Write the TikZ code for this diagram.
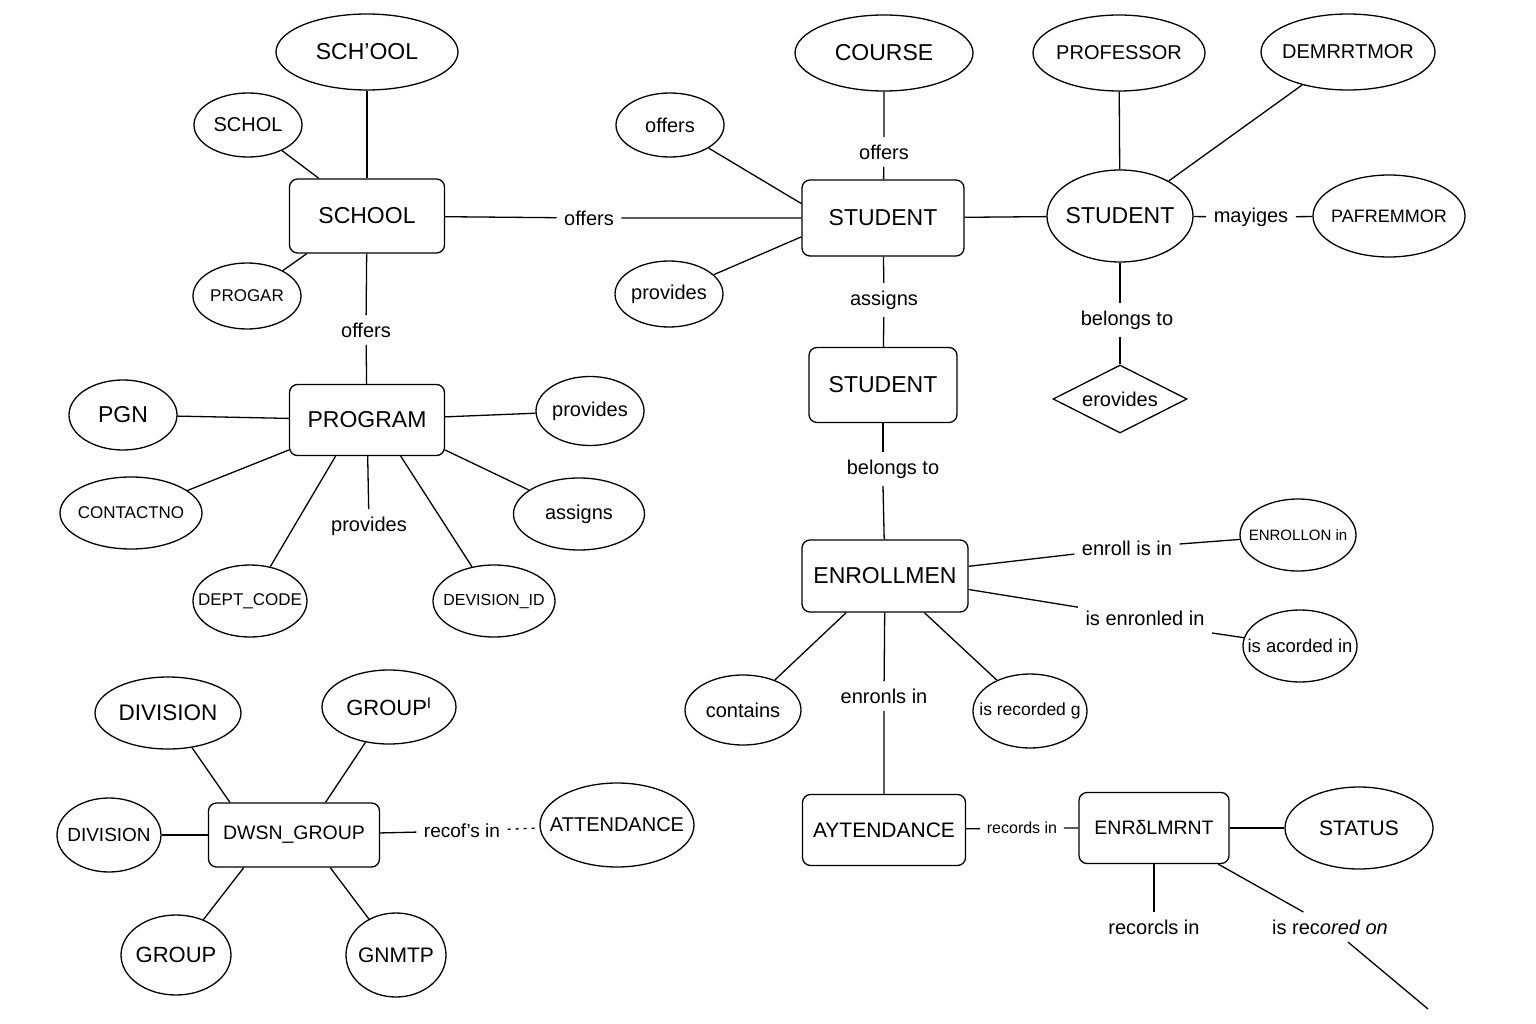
\documentclass[tikz,border=0pt]{standalone}
\usepackage{fontspec}
\setmainfont{Liberation Sans}
\usetikzlibrary{shapes.geometric}
\newcommand\fsz[1]{\fontsize{#1}{#1}\selectfont}

\begin{document}
\begin{tikzpicture}[x=1pt,y=-1pt,line width=1.3pt,
  ent/.style={draw,rounded corners=8pt,inner sep=0pt,font=\fsz{23}},
  attr/.style={draw,ellipse,inner xsep=-16pt,inner ysep=0pt,font=\fsz{20}},
  rel/.style={font=\fsz{20},inner sep=7pt},
  bigtxt/.style={font=\fsz{23}}]
  \path[use as bounding box,fill=white] (0,0) rectangle (1536,1024);

  % school
  \node[ent,minimum width=155,minimum height=74] (school) at (367,216) {SCHOOL};
  \node[attr,bigtxt,minimum width=182,minimum height=76] (schq) at (367,52) {SCH’OOL};
  \node[attr,minimum width=108,minimum height=64] (schol) at (248,125) {SCHOL};
  \node[attr,font=\fsz{17},minimum width=108,minimum height=66] (progar) at (247,296) {PROGAR};
  \node[rel] (offa) at (589,218) {offers};
  \node[rel] (offb) at (366,330) {offers};
  \draw (schq) -- (school);
  \draw (schol) -- (school.142);
  \draw (progar) -- (school.212);

  % program
  \node[ent,minimum width=155,minimum height=71] (program) at (367,420) {PROGRAM};
  \node[attr,bigtxt,minimum width=108,minimum height=70] (pgn) at (123,415) {PGN};
  \node[attr,font=\fsz{17},minimum width=142,minimum height=72] (contno) at (131,513) {CONTACTNO};
  \node[attr,font=\fsz{17},minimum width=114,minimum height=72] (dept) at (250,601) {DEPT\_CODE};
  \node[attr,font=\fsz{16},minimum width=122,minimum height=72] (devid) at (494,601) {DEVISION\_ID};
  \node[attr,minimum width=131,minimum height=72] (asgn) at (579,514) {assigns};
  \node[attr,minimum width=108,minimum height=69] (provc) at (590,411) {provides};
  \node[rel] (provl) at (369,526) {provides};
  \draw (school) -- (offb) -- (program);
  \draw (pgn) -- (program);
  \draw (contno) -- (program.201);
  \draw (dept) -- (program.229);
  \draw (devid) -- (program.313);
  \draw (asgn) -- (program.339);
  \draw (provc) -- (program);
  \draw (program) -- (provl);

  % student
  \node[ent,minimum width=162,minimum height=76] (stud) at (883,218) {STUDENT};
  \node[attr,bigtxt,minimum width=178,minimum height=76] (course) at (884,53) {COURSE};
  \node[rel] (offc) at (884,152) {offers};
  \node[attr,minimum width=108,minimum height=64] (offd) at (670,125) {offers};
  \node[attr,minimum width=108,minimum height=66] (provb) at (669,294) {provides};
  \draw (school) -- (offa) -- (stud);
  \draw (course) -- (offc) -- (stud);
  \draw (offd) -- (stud.170);
  \draw (provb) -- (stud.193);

  \node[attr,bigtxt,minimum width=146,minimum height=92] (stude) at (1120,216) {STUDENT};
  \node[attr,minimum width=172,minimum height=76] (prof) at (1119,53) {PROFESSOR};
  \node[attr,minimum width=174,minimum height=76] (demr) at (1348,52) {DEMRRTMOR};
  \node[rel] (mayi) at (1251,217) {mayiges};
  \node[attr,font=\fsz{18},minimum width=152,minimum height=82] (pafr) at (1389,216) {PAFREMMOR};
  \node[rel] (bel) at (1127,320) {belongs to};
  \node[draw,diamond,aspect=2,inner sep=0pt,font=\fsz{20},minimum width=134,minimum height=68] (erov) at (1120,399) {erovides};
  \draw (stud) -- (stude);
  \draw (prof) -- (stude);
  \draw (demr) -- (stude);
  \draw (stude) -- (mayi) -- (pafr);
  \draw (stude) -- (stude |- bel.north);
  \draw (stude |- bel.south) -- (erov);

  % enrollment
  \node[rel] (asg) at (884,300) {assigns};
  \node[ent,minimum width=148,minimum height=75] (studb) at (883,385) {STUDENT};
  \node[rel] (belb) at (893,469) {belongs to};
  \node[ent,minimum width=166,minimum height=72] (enrl) at (885,576) {ENROLLMEN};
  \draw (stud) -- (asg) -- (studb);
  \draw (studb) -- (studb |- belb.north);
  \draw (studb |- belb.south) -- (enrl);

  \node[rel] (enris) at (1127,548) {enroll is in};
  \node[attr,font=\fsz{15},minimum width=116,minimum height=72] (enron) at (1298,535) {ENROLLON in};
  \node[rel] (isen) at (1145,618) {is enronled in};
  \node[attr,font=\fsz{18.5},minimum width=114,minimum height=72] (acor) at (1300,646) {is acorded in};
  \node[attr,minimum width=116,minimum height=70] (cont) at (743,710) {contains};
  \node[attr,font=\fsz{17.5},minimum width=114,minimum height=74] (isrec) at (1030,711) {is recorded g};
  \node[rel] (enrin) at (884,696) {enronls in};
  \draw (enrl) -- (enris) -- (enron);
  \draw (enrl) -- (isen);
  \draw (isen.south east) -- (acor);
  \draw (cont) -- (enrl);
  \draw (isrec) -- (enrl);

  % attendance
  \node[ent,font=\fsz{21},minimum width=163,minimum height=71] (atten) at (884,830) {AYTENDANCE};
  \node[rel,font=\fsz{16},inner sep=6pt] (recin) at (1022,828) {records in};
  \node[ent,font=\fsz{19.5},minimum width=150,minimum height=71] (enrm) at (1154,828) {ENRδLMRNT};
  \node[attr,font=\fsz{21},minimum width=148,minimum height=82] (status) at (1359,828) {STATUS};
  \node[rel] (recc) at (1154,927) {recorcls in};
  \node[rel] (recon) at (1330,927) {is rec\textit{ored on}};
  \coordinate (tail) at (1428,1009);
  \draw (enrl) -- (enrin) -- (atten);
  \draw (atten) -- (recin) -- (enrm);
  \draw (enrm) -- (status);
  \draw (enrm) -- (recc);
  \draw (enrm) -- (recon) -- (tail);

  % division group
  \node[ent,font=\fsz{19.5},minimum width=171,minimum height=64] (dwsn) at (294,835) {DWSN\_GROUP};
  \node[attr,font=\fsz{22.5},minimum width=146,minimum height=72] (divt) at (168,713) {DIVISION};
  \node[attr,font=\fsz{22},minimum width=134,minimum height=74] (grpt) at (389,707) {GROUP\textsuperscript{I}};
  \node[attr,font=\fsz{19},minimum width=104,minimum height=74] (divs) at (109,835) {DIVISION};
  \node[attr,font=\fsz{22},minimum width=110,minimum height=80] (grpb) at (176,955) {GROUP};
  \node[attr,font=\fsz{21},minimum width=100,minimum height=84] (gnmtp) at (396,955) {GNMTP};
  \node[rel,font=\fsz{19}] (recof) at (462,831) {recof’s in};
  \node[attr,minimum width=154,minimum height=84] (attw) at (617,825) {ATTENDANCE};
  \draw (divt) -- (dwsn.153);
  \draw (grpt) -- (dwsn.46);
  \draw (divs) -- (dwsn);
  \draw (grpb) -- (dwsn.213);
  \draw (gnmtp) -- (dwsn.318);
  \draw (dwsn) -- (recof);
  \draw[dash pattern=on 3pt off 5pt] (recof) -- (attw);
\end{tikzpicture}
\end{document}
